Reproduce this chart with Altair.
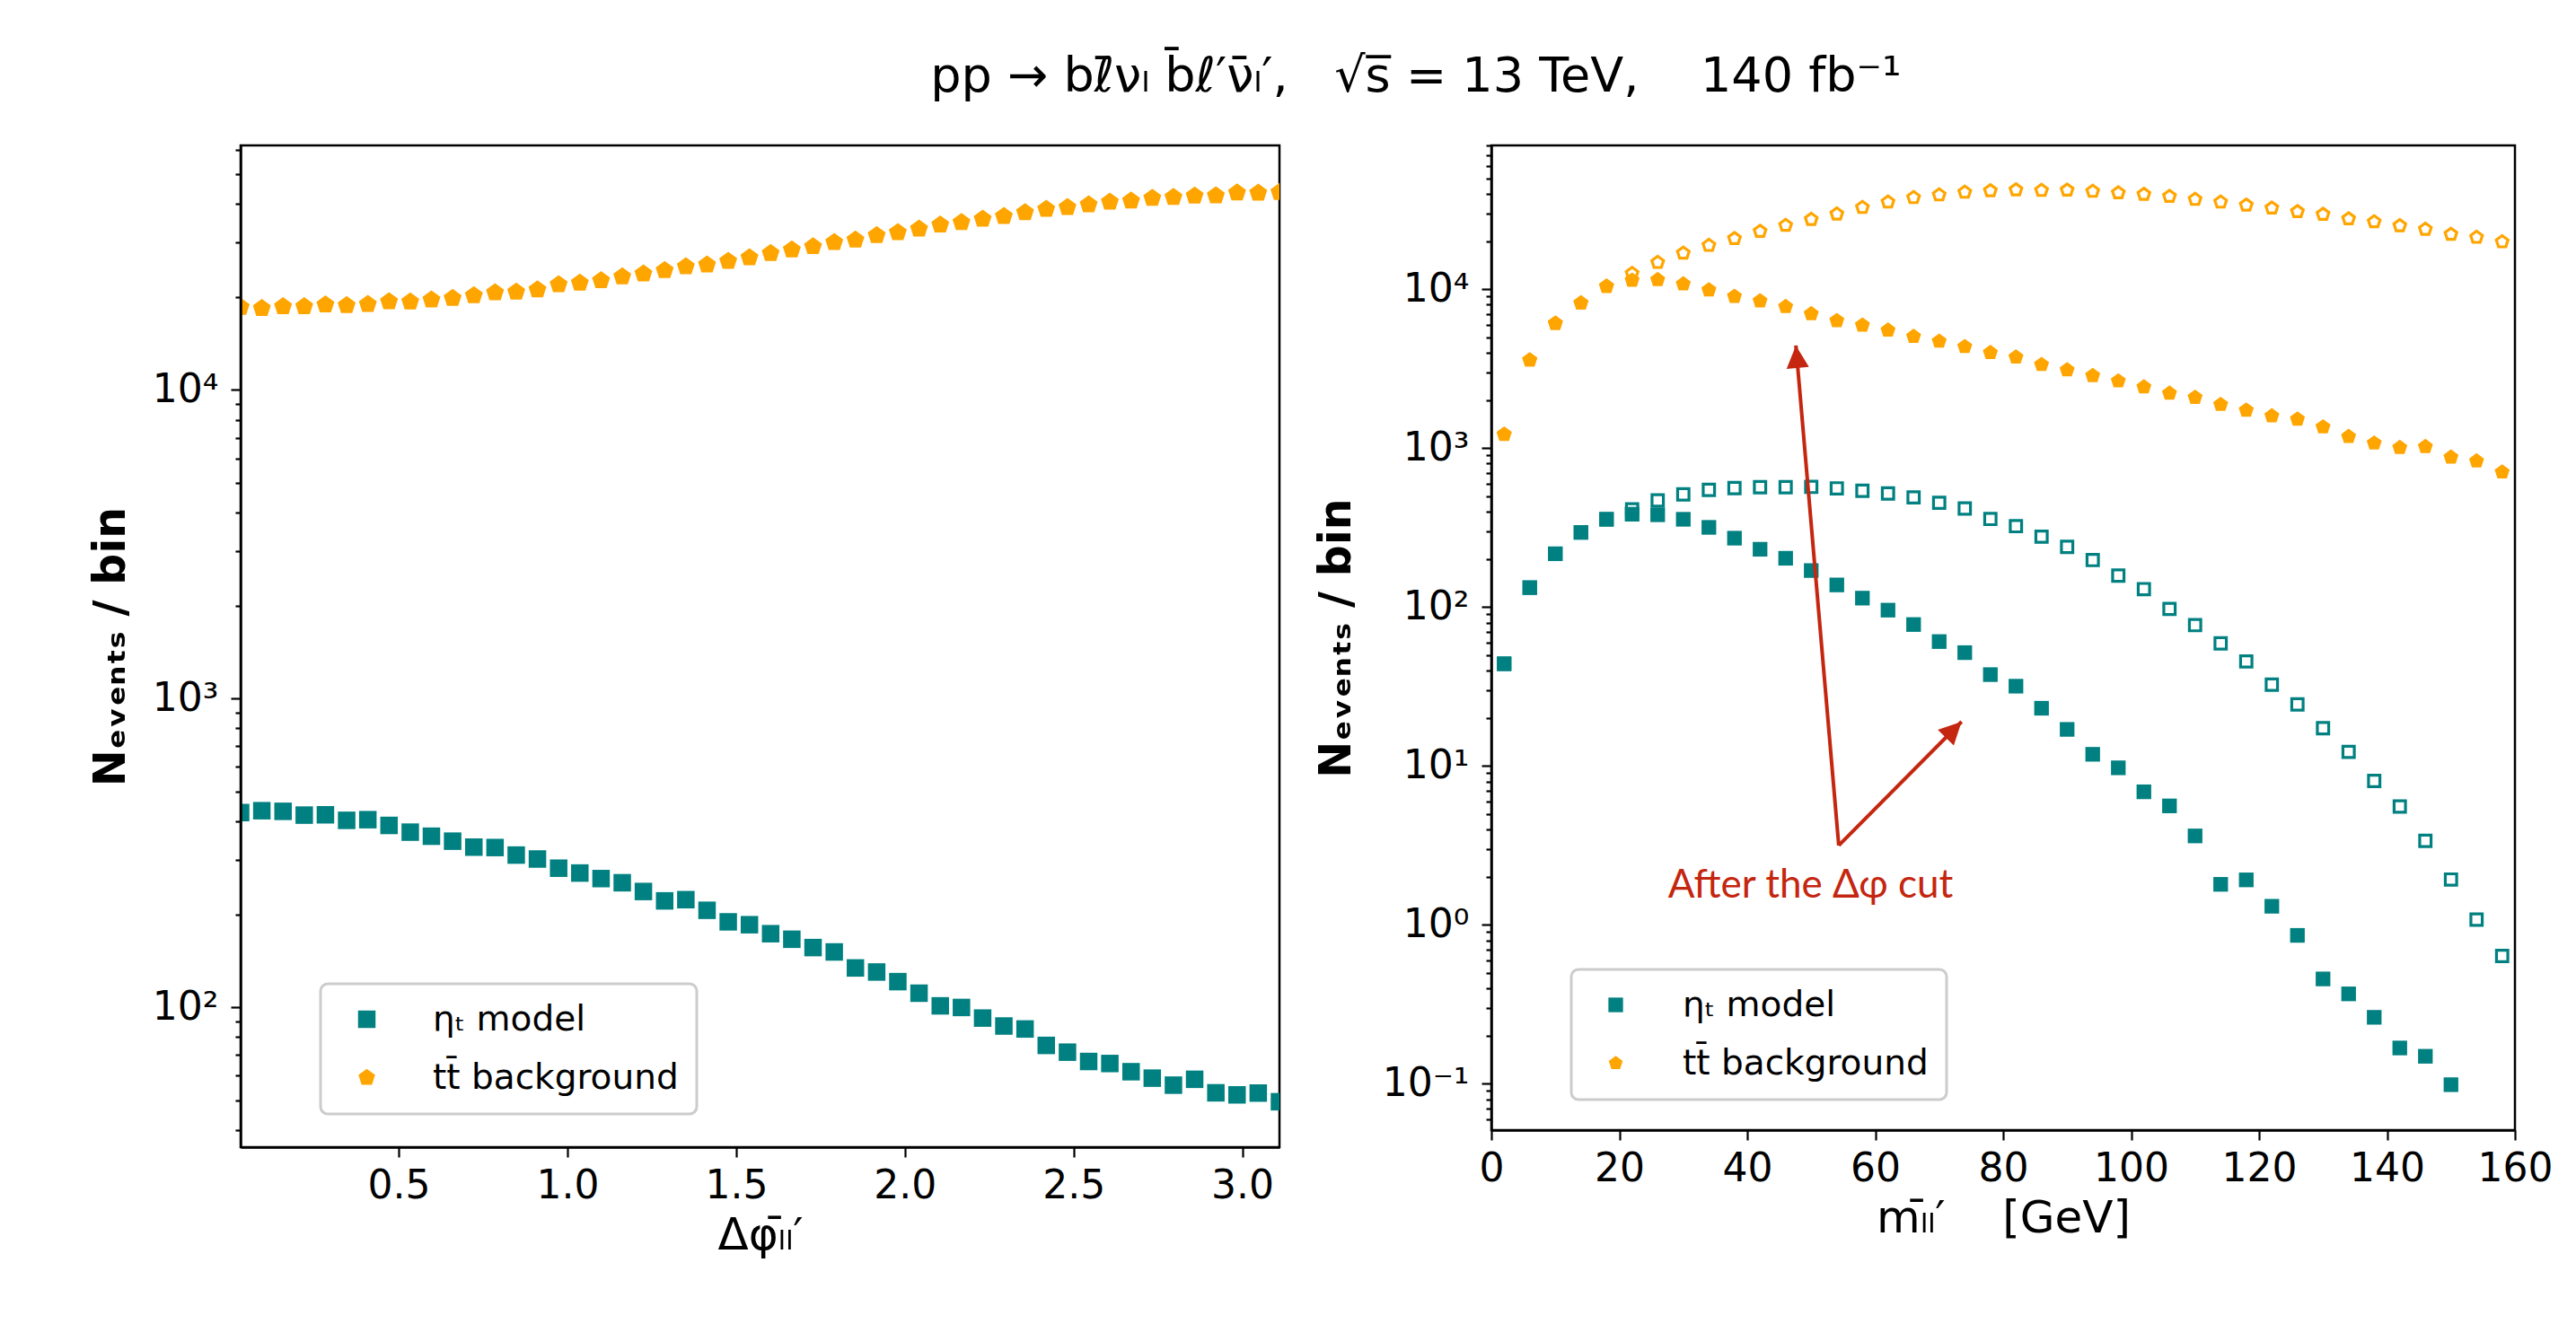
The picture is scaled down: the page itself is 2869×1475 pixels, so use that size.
import math
import altair as alt
import pandas as pd

# ---------------- data ----------------
SIG = "ηₜ model"
BKG = "tt̄ background"
TEAL = "#008080"
ORANGE = "#ffa500"
RED = "#c4260f"
FONT = "DejaVu Sans"
PENT = "M0,-1L0.951,-0.309L0.588,0.809L-0.588,0.809L-0.951,-0.309Z"
HEAD = "M0,0L-0.5,1L0.5,1Z"

# left panel: 50 bins in delta-phi (0..pi)
dphi = [round((i + 0.5) * math.pi / 50, 4) for i in range(50)]
left_sig = [427, 433, 431, 419, 420, 403, 405, 388, 369, 358,
            345, 330, 329, 311, 302, 282, 272, 261, 253, 237,
            221, 223, 206, 189, 185, 173, 166, 156, 151, 134,
            130, 121, 111, 101, 99.8, 92.2, 86.9, 85.0, 75.2, 71.5,
            66.7, 65.7, 61.8, 58.9, 55.9, 58.4, 52.8, 52.0, 52.7, 49.4]
left_bkg = [18510, 18350, 18600, 18600, 18850, 18760, 18930, 19320, 19270, 19570,
            19790, 20200, 20650, 20740, 21110, 21930, 22180, 22580, 23240, 23770,
            24360, 25070, 25410, 26100, 26810, 27670, 28410, 29120, 30050, 30590,
            31620, 32330, 33220, 34200, 34880, 35760, 36480, 37550, 38490, 39010,
            39800, 40600, 40970, 41800, 42070, 42450, 42550, 43510, 43410, 43600]

# right panel: 40 bins of 4 GeV in m_ll
mll = list(range(2, 160, 4))
right_sig_all = [44.0, 132.6, 216.7, 295.0, 357.1, 412.2, 469.6, 512.2, 546.7, 561.2,
                 568.5, 568.5, 571.0, 558.7, 539.6, 519.0, 490.5, 453.6, 417.6, 358.6,
                 323.1, 277.5, 239.4, 197.8, 157.8, 129.8, 97.4, 77.0, 59.1, 45.5,
                 32.5, 24.4, 17.3, 12.27, 8.05, 5.56, 3.38, 1.93, 1.08, 0.637]
right_sig_cut = [44.0, 132.6, 216.7, 295.0, 357.1, 384.5, 381.2, 357.1, 317.6, 271.6,
                 231.3, 203.0, 169.9, 137.9, 113.9, 95.7, 77.7, 60.7, 51.7, 37.6,
                 31.8, 23.1, 17.0, 11.85, 9.74, 6.88, 5.61, 3.63, 1.80, 1.92,
                 1.31, 0.859, 0.457, 0.368, 0.262, 0.168, 0.149, 0.0987]
right_bkg_all = [1221, 3585, 6106, 8194, 10440, 12580, 14760, 16880, 18890, 20870,
                 23150, 25250, 27540, 29770, 32730, 35390, 37770, 39270, 40830, 41720,
                 42270, 41910, 42090, 41360, 40470, 39610, 38430, 36800, 35390, 33890,
                 32460, 30820, 29640, 27780, 26600, 25140, 23870, 22180, 21240, 19900]
right_bkg_cut = [1221, 3585, 6106, 8194, 10440, 11390, 11490, 10810, 9913, 9013,
                 8446, 7780, 7013, 6347, 5949, 5527, 5047, 4710, 4357, 3995,
                 3744, 3360, 3108, 2862, 2648, 2428, 2217, 2087, 1882, 1733,
                 1596, 1522, 1360, 1184, 1076, 1009, 1022, 878, 830, 707]

# annotation (right panel, data coordinates)
arrow_tail = [54.3, 3.16]
arrow_tip_x = [47.6, 73.5]
arrow_tip_y = [4430, 19.0]
arrow_angle = [355.2, 44.7]
note_text = "After the Δφ cut"
note_pos = [49.9, 1.49]

left_ydom = [35.2, 61900]
right_ydom = [0.0511, 80500]
left_xdom = [0.0314, 3.1102]
right_xdom = [0, 160]

# ---------------- helpers ----------------
SUP = {-1: "10⁻¹", 0: "10⁰", 1: "10¹", 2: "10²", 3: "10³", 4: "10⁴"}


def log_ticks(lo, hi):
    vals = []
    for e in range(-2, 6):
        for m in range(1, 10):
            v = float(f"{m}e{e}")
            if lo <= v <= hi:
                vals.append(v)
    return vals


def label_expr(vals):
    majors = [v for v in vals if float(f"{v:e}".split("e")[0]) == 1.0]
    expr = "''"
    for v in majors:
        e = round(math.log10(v))
        expr = f"datum.value == {v} ? '{SUP[e]}' : ({expr})"
    return expr, majors


def y_axis(dom, title, extent):
    vals = log_ticks(*dom)
    expr, majors = label_expr(vals)
    return alt.Axis(
        values=vals, labelExpr=expr, title=title,
        tickSize={"condition": {"test": f"indexof({majors}, datum.value) >= 0", "value": 11},
                  "value": 6},
        labelPadding=14, labelOverlap=False, labelFlush=False,
        titleFontSize=49, titleFontWeight="bold", titlePadding=10,
        minExtent=extent, maxExtent=extent, grid=False, zindex=1,
    )


def x_axis(vals, fmt, title, tpad):
    return alt.Axis(values=vals, format=fmt, title=title, labelPadding=10,
                    labelFlush=False, labelOverlap=False,
                    titleFontSize=50, titleFontWeight="normal",
                    titlePadding=tpad, grid=False, zindex=1)


def legend(x, y, size, offset, loff):
    return alt.Legend(title=None, orient="none", legendX=x, legendY=y,
                      direction="vertical", labelFontSize=39, labelFont=FONT,
                      labelColor="black", symbolSize=size, symbolOpacity=1,
                      symbolStrokeWidth=0, padding=20, rowPadding=25,
                      symbolOffset=offset, labelOffset=loff, strokeColor="#cccccc",
                      cornerRadius=8, fillColor="white", labelLimit=0)


color_scale = alt.Scale(domain=[SIG, BKG], range=[TEAL, ORANGE])
shape_scale = alt.Scale(domain=[SIG, BKG], range=["square", PENT])

# ---------------- left panel ----------------
lx = alt.X("x:Q", scale=alt.Scale(domain=left_xdom, nice=False, zero=False),
           axis=x_axis([0.5, 1.0, 1.5, 2.0, 2.5, 3.0], ".1f", "Δφₗ̄ₗ′", 8))
ly = alt.Y("y:Q", scale=alt.Scale(type="log", domain=left_ydom, nice=False),
           axis=y_axis(left_ydom, "Nₑᵥₑₙₜₛ / bin", 110))
lleg = legend(89, 934, 380, 12, 54)

df_ls = pd.DataFrame({"x": dphi, "y": left_sig, "s": SIG})
df_lb = pd.DataFrame({"x": dphi, "y": left_bkg, "s": BKG})

l_sig = alt.Chart(df_ls).mark_point(filled=True, size=380, opacity=1, clip=True).encode(
    x=lx, y=ly,
    color=alt.Color("s:N", scale=color_scale, legend=lleg),
    shape=alt.Shape("s:N", scale=shape_scale, legend=lleg))
l_bkg = alt.Chart(df_lb).mark_point(filled=True, size=441, opacity=1, clip=True).encode(
    x=lx, y=ly,
    color=alt.Color("s:N", scale=color_scale, legend=lleg),
    shape=alt.Shape("s:N", scale=shape_scale, legend=lleg))

left = alt.layer(l_sig, l_bkg).properties(width=1157, height=1116)

# ---------------- right panel ----------------
rx = alt.X("x:Q", scale=alt.Scale(domain=right_xdom, nice=False, zero=False),
           axis=x_axis(list(range(0, 161, 20)), "d",
                       "mₗ̄ₗ′\u00a0\u00a0\u00a0\u00a0[GeV]", 8))
ry = alt.Y("y:Q", scale=alt.Scale(type="log", domain=right_ydom, nice=False),
           axis=y_axis(right_ydom, "Nₑᵥₑₙₜₛ / bin", 138))
rleg = legend(89, 918, 266, 10, 55)

df_rsa = pd.DataFrame({"x": mll, "y": right_sig_all})
df_rba = pd.DataFrame({"x": mll, "y": right_bkg_all})
df_rsc = pd.DataFrame({"x": mll[:len(right_sig_cut)], "y": right_sig_cut, "s": SIG})
df_rbc = pd.DataFrame({"x": mll, "y": right_bkg_cut, "s": BKG})

r_sig_all = alt.Chart(df_rsa).mark_point(filled=False, shape="square", size=160,
                                         strokeWidth=3.2, color=TEAL, opacity=1,
                                         clip=True).encode(x=rx, y=ry)
r_bkg_all = alt.Chart(df_rba).mark_point(filled=False, shape=PENT, size=190,
                                         strokeWidth=3.2, color=ORANGE, opacity=1,
                                         clip=True).encode(x=rx, y=ry)
r_sig_cut = alt.Chart(df_rsc).mark_point(filled=True, size=266, opacity=1, clip=True).encode(
    x=rx, y=ry,
    color=alt.Color("s:N", scale=color_scale, legend=rleg),
    shape=alt.Shape("s:N", scale=shape_scale, legend=rleg))
r_bkg_cut = alt.Chart(df_rbc).mark_point(filled=True, size=310, opacity=1, clip=True).encode(
    x=rx, y=ry,
    color=alt.Color("s:N", scale=color_scale, legend=rleg),
    shape=alt.Shape("s:N", scale=shape_scale, legend=rleg))

df_arrows = pd.DataFrame({
    "x": [arrow_tail[0], arrow_tip_x[0], arrow_tail[0], arrow_tip_x[1]],
    "y": [arrow_tail[1], arrow_tip_y[0], arrow_tail[1], arrow_tip_y[1]],
    "a": ["a1", "a1", "a2", "a2"],
    "o": [0, 1, 0, 1],
})
df_heads = pd.DataFrame({"x": arrow_tip_x, "y": arrow_tip_y, "ang": arrow_angle})
df_note = pd.DataFrame({"x": [note_pos[0]], "y": [note_pos[1]], "t": [note_text]})

r_lines = alt.Chart(df_arrows).mark_line(color=RED, strokeWidth=4).encode(
    x=rx, y=ry, detail="a:N", order="o:Q")
r_heads = alt.Chart(df_heads).mark_point(shape=HEAD, filled=True, color=RED, size=2500,
                                         opacity=1).encode(
    x=rx, y=ry, angle=alt.Angle("ang:Q", scale=None))
r_note = alt.Chart(df_note).mark_text(color=RED, font="Lato", fontSize=44, align="center",
                                      baseline="alphabetic").encode(x=rx, y=ry, text="t:N")

right = alt.layer(r_sig_all, r_bkg_all, r_sig_cut, r_bkg_cut, r_lines, r_heads, r_note
                  ).properties(width=1140, height=1097)

title_text = ("pp → bℓ̄νₗ b̄ℓ′ν̄ₗ′,\u00a0\u00a0\u00a0√s̅ = 13 TeV,"
              "\u00a0\u00a0\u00a0\u00a0140 fb⁻¹")

chart = alt.hconcat(left, right, spacing=35).resolve_scale(
    x="independent", y="independent", color="independent", shape="independent"
).resolve_legend(color="independent", shape="independent").properties(
    title=alt.TitleParams(text=title_text, fontSize=54, font=FONT, fontWeight="normal",
                          color="black", anchor="middle", dx=106, offset=26),
    padding={"left": 97, "top": 59, "right": 10, "bottom": 10},
    background="white",
).configure_view(stroke="black", strokeWidth=2.5).configure_axis(
    domainColor="black", domainWidth=2.5, tickColor="black", tickWidth=2.2,
    tickSize=11, labelFont=FONT, labelFontSize=44, labelColor="black",
    titleFont=FONT, titleColor="black",
).configure_legend(strokeWidth=3)

chart.save("out.html", embed_options={"renderer": "svg", "actions": False})
